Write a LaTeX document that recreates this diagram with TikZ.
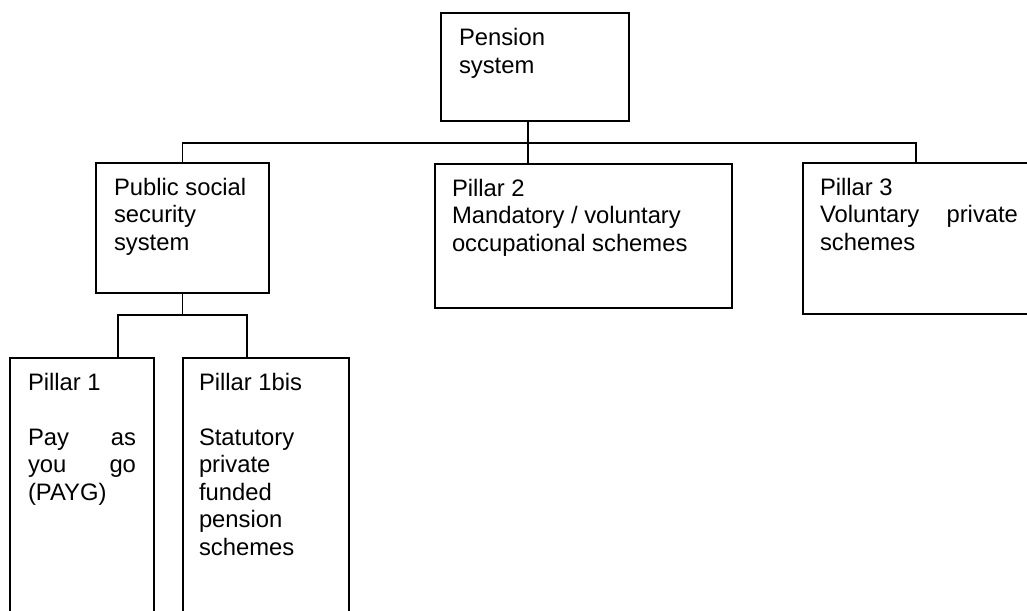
\documentclass[tikz,border=0pt]{standalone}
\usepackage{fontspec}
\setmainfont{Liberation Sans}
\newcommand\firstln{\rule{0pt}{18pt}}
\begin{document}
\begin{tikzpicture}[x=1pt,y=-1pt,
  boxsty/.style={draw, line width=1.5pt, inner sep=0pt, outer sep=0pt, anchor=north west},
  txtsty/.style={inner sep=0pt, outer sep=0pt, anchor=north west, align=left,
    font=\fontsize{23.8}{27.5}\selectfont},
  link/.style={line width=1.5pt}]
\useasboundingbox (0,0) rectangle (1027,610);
\clip (0,0) rectangle (1027,610);
\fill[white] (0,0) rectangle (1027,610);
% boxes
\node[boxsty, minimum width=188pt, minimum height=108pt] (pen) at (441,13) {};
\node[boxsty, minimum width=173pt, minimum height=130pt] (pub) at (96,163) {};
\node[boxsty, minimum width=297pt, minimum height=144pt] (pil2) at (435,164) {};
\node[boxsty, minimum width=226pt, minimum height=151pt] (pil3) at (803,163) {};
\node[boxsty, minimum width=144pt, minimum height=300pt] (pil1) at (10,358) {};
\node[boxsty, minimum width=166pt, minimum height=300pt] (pil1b) at (183,358) {};
% texts
\node[txtsty] (tpen) at (459,28) {\firstln Pension\\system};
\node[txtsty] (tpub) at (114,177) {\firstln Public social\\security\\system};
\node[txtsty] (tpil2) at (452,178) {\firstln Pillar 2\\Mandatory / voluntary\\occupational schemes};
\node[txtsty] (tpil3) at (820,177) {\firstln Pillar 3\\\makebox[198pt][s]{Voluntary private}\\schemes};
\node[txtsty] (tpil1) at (28,372) {\firstln Pillar 1\\\mbox{}\\\makebox[108pt][s]{Pay as}\\\makebox[108pt][s]{you go}\\(PAYG)};
\node[txtsty] (tpil1b) at (199,372) {\firstln Pillar 1bis\\\mbox{}\\Statutory\\private\\funded\\pension\\schemes};
% connector points
\coordinate (penJ) at (528,143);
\coordinate (busL) at (183,143);
\coordinate (busR) at (916,143);
\coordinate (sbL) at (118,315);
\coordinate (sbR) at (247,315);
% connectors
\draw[link] (penJ |- pen.south) -- (penJ) -- (penJ |- pil2.north);
\draw[link] (pub.north) -- (pub.north |- busL) -- (busR) -- (busR |- pil3.north);
\draw[link] (pub.south) -- (pub.south |- sbL);
\draw[link] (sbL |- pil1.north) -- (sbL) -- (sbR) -- (sbR |- pil1b.north);
\end{tikzpicture}
\end{document}
